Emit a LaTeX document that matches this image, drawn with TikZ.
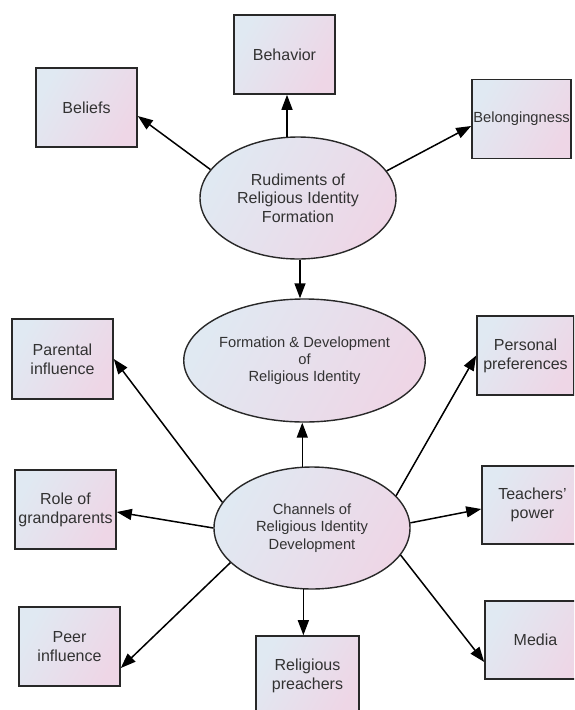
\documentclass[tikz,border=0pt]{standalone}
\usepackage{fontspec}
\setmainfont{Liberation Sans}
\usetikzlibrary{shapes.geometric,arrows.meta}
\definecolor{cA}{RGB}{224,233,242}
\definecolor{cB}{RGB}{238,214,230}
\definecolor{edgec}{RGB}{40,40,40}
\definecolor{txt}{RGB}{50,50,50}
\tikzset{
 boxnode/.style={draw=edgec, line width=1.6pt, left color=cA, right color=cB, shading angle=60,
   minimum width=101pt, minimum height=79pt, inner sep=0pt, align=center, text=txt,
   font=\fontsize{16}{19}\selectfont},
 ellnode/.style={ellipse, draw=edgec, line width=1.4pt, left color=cA, right color=cB, shading angle=60,
   minimum width=196pt, minimum height=122pt, inner sep=0pt, align=center, text=txt},
 arr/.style={-{Triangle[length=15pt,width=11pt]}, line width=1.5pt, draw=black},
}
\begin{document}
\begin{tikzpicture}[x=1pt,y=-1pt]
\clip (0,0) rectangle (574,710);
\fill[white] (0,0) rectangle (574,710);
% ellipses
\node[ellnode, font=\fontsize{16}{18.7}\selectfont] (rud) at (298,198) {Rudiments of\\Religious Identity\\Formation};
\node[ellnode, minimum width=195pt, minimum height=123pt, font=\fontsize{14.7}{17.2}\selectfont] (form) at (304.5,360.5) {Formation \& Development\\of\\Religious Identity};
\node[ellnode, font=\fontsize{14.7}{17.2}\selectfont] (chan) at (312,528) {Channels of\\Religious Identity\\Development};
% boxes
\node[boxnode] (bfs) at (86.5,107.5) {Beliefs};
\node[boxnode] (beh) at (284.5,54.5) {Behavior};
\node[boxnode, minimum width=99pt, font=\fontsize{14.7}{17}\selectfont] (bel) at (521.5,119) {Belongingness};
\node[boxnode, minimum height=80pt] (par) at (62.5,359) {Parental\\influence};
\node[boxnode, minimum width=97pt] (per) at (525.5,355.5) {Personal\\preferences};
\node[boxnode] (rol) at (65.5,509.5) {Role of\\grandparents};
\node[boxnode, minimum height=78pt] (tea) at (532.5,505) {Teachers'\\power};
\node[boxnode] (pee) at (69.5,646.5) {Peer\\influence};
\node[boxnode, minimum width=103pt, minimum height=80pt] (pre) at (307.5,676) {Religious\\preachers};
\node[boxnode, minimum height=78pt] (med) at (535.5,640) {Media};
% arrows from rudiments
\draw[arr] (rud.162) -- ([yshift=-8.5pt]bfs.east);
\draw[arr] (rud.north -| beh.south) ++(2.5,0.6) -- ([xshift=2.5pt]beh.south);
\draw[arr] (rud.17) -- ([yshift=-7pt]bel.west);
\draw[arr] ([xshift=2pt]rud.south) -- ([xshift=2pt]rud.south |- form.north);
% arrows from channels
\draw[arr] (chan.99) -- (chan.99 |- form.south);
\draw[arr] (chan.164.5) -- (par.east);
\draw[arr] (chan.180) -- ([yshift=-2.5pt]rol.east);
\draw[arr] (chan.203) -- ([yshift=-21.5pt]pee.east);
\draw[arr] (chan.262) -- (chan.262 |- pre.north);
\draw[arr] (chan.21.4) -- (per.west);
\draw[arr] (chan.3) -- ([yshift=-4pt]tea.west);
\draw[arr] (chan.343.5) -- ([yshift=-22pt]med.west);
\end{tikzpicture}
\end{document}
